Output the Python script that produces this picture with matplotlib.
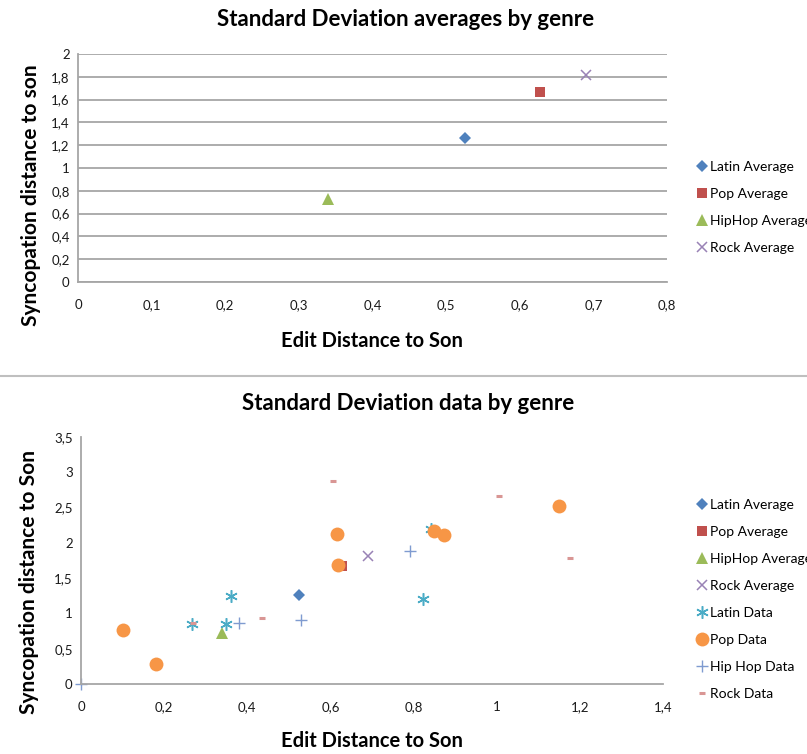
import matplotlib
matplotlib.use("Agg")
import matplotlib.pyplot as plt
from matplotlib.ticker import FuncFormatter, MultipleLocator
from matplotlib.lines import Line2D

plt.rcParams['font.family'] = ['Lato', 'DejaVu Sans']

# genre averages (edit distance, syncopation distance)
avg_names = ["Latin Average", "Pop Average", "HipHop Average", "Rock Average"]
avg_x = [0.525, 0.628, 0.34, 0.69]
avg_y = [1.265, 1.665, 0.725, 1.82]

# per-song standard deviation data
latin_x = [0.266, 0.348, 0.36, 0.823, 0.842]
latin_y = [0.85, 0.85, 1.25, 1.21, 2.20]
pop_x = [0.10, 0.18, 0.615, 0.618, 0.848, 0.874, 1.151]
pop_y = [0.77, 0.29, 2.13, 1.68, 2.17, 2.11, 2.52]
hiphop_x = [0.0, 0.38, 0.53, 0.791]
hiphop_y = [0.0, 0.86, 0.90, 1.89]
rock_x = [0.269, 0.435, 0.607, 1.005, 1.176]
rock_y = [0.86, 0.94, 2.88, 2.66, 1.79]

W, H = 807, 754
fig = plt.figure(figsize=(W / 100, H / 100), dpi=100)

grey = "#A6A6A6"
txt = "#1a1a1a"

avg_style = [
    dict(marker="D", color="#4F81BD", ms=6.5, mew=0),
    dict(marker="s", color="#C0504D", ms=7.5, mew=0),
    dict(marker="^", color="#9BBB59", ms=8, mew=0),
    dict(marker="x", color="#9982B5", ms=7.5, mew=1.1),
]


def comma(v, pos):
    s = f"{v:.1f}".rstrip("0").rstrip(".")
    return s.replace(".", ",")


def px_axes(l, t, r, b):
    return fig.add_axes([l / W, 1 - b / H, (r - l) / W, (b - t) / H])


def style(ax):
    ax.xaxis.set_major_formatter(FuncFormatter(comma))
    ax.yaxis.set_major_formatter(FuncFormatter(comma))
    for s in ("top", "right"):
        ax.spines[s].set_visible(False)
    ax.spines["left"].set_color(grey)
    ax.spines["left"].set_linewidth(1.3)
    ax.spines["bottom"].set_color(grey)
    ax.spines["bottom"].set_linewidth(1.3)
    ax.tick_params(axis="x", length=0, pad=12, labelsize=9.5, colors=txt)
    ax.tick_params(axis="y", length=0, pad=6, labelsize=9.5, colors=txt)


def legend(ax, top_px):
    ax.legend(loc="upper left", bbox_to_anchor=(698 / W, 1 - top_px / H), bbox_transform=fig.transFigure,
              frameon=False, fontsize=10, handlelength=0.55, handletextpad=0.3, labelspacing=1.08,
              borderaxespad=0, borderpad=0)


# ---- top chart: averages only ----
ax1 = px_axes(78, 54, 667, 282)
for i, name in enumerate(avg_names):
    ax1.plot(avg_x[i], avg_y[i], linestyle="none", label=name, clip_on=False, **avg_style[i])
ax1.set_xlim(0, 0.8)
ax1.set_ylim(0, 2)
ax1.xaxis.set_major_locator(MultipleLocator(0.1))
ax1.yaxis.set_major_locator(MultipleLocator(0.2))
ax1.yaxis.grid(True, color=grey, linewidth=1.3)
ax1.set_axisbelow(True)
style(ax1)
fig.text(406 / W, 1 - 20 / H, "Standard Deviation averages by genre", ha="center", va="center",
         fontsize=16, fontweight="bold", color="black")
fig.text(372 / W, 1 - 341 / H, "Edit Distance to Son", ha="center", va="center",
         fontsize=14.5, fontweight="bold", color="black")
fig.text(31 / W, 1 - 195 / H, "Syncopation distance to son", ha="center", va="center",
         rotation=90, fontsize=15, fontweight="bold", color="black")
legend(ax1, 161)

# separator between the two charts
fig.add_artist(Line2D([0, 1], [1 - 376 / H] * 2, transform=fig.transFigure, color="#BFBFBF", lw=1.5))

# ---- bottom chart: averages and data ----
ax2 = px_axes(81, 437, 663, 684)
for i, name in enumerate(avg_names):
    ax2.plot(avg_x[i], avg_y[i], linestyle="none", label=name, clip_on=False, **avg_style[i])
ax2.plot(latin_x, latin_y, linestyle="none", marker=(6, 2, 0), ms=9, mew=1.1,
         color="#4BACC6", label="Latin Data", clip_on=False)
ax2.plot(pop_x, pop_y, linestyle="none", marker="o", ms=10, mew=0,
         color="#F79646", label="Pop Data", clip_on=False)
ax2.plot(hiphop_x, hiphop_y, linestyle="none", marker="+", ms=9, mew=1.0,
         color="#7F9BD0", label="Hip Hop Data", clip_on=False)
ax2.plot(rock_x, rock_y, linestyle="none", marker="_", ms=5, mew=2.2,
         color="#D99694", label="Rock Data", clip_on=False)
ax2.set_xlim(0, 1.4)
ax2.set_ylim(0, 3.5)
ax2.xaxis.set_major_locator(MultipleLocator(0.2))
ax2.yaxis.set_major_locator(MultipleLocator(0.5))
style(ax2)
fig.text(408 / W, 1 - 404 / H, "Standard Deviation data by genre", ha="center", va="center",
         fontsize=16, fontweight="bold", color="black")
fig.text(372 / W, 1 - 741 / H, "Edit Distance to Son", ha="center", va="center",
         fontsize=14.5, fontweight="bold", color="black")
fig.text(29 / W, 1 - 582 / H, "Syncopation distance to Son", ha="center", va="center",
         rotation=90, fontsize=15, fontweight="bold", color="black")
legend(ax2, 499)

fig.savefig("out.png", dpi=100)
